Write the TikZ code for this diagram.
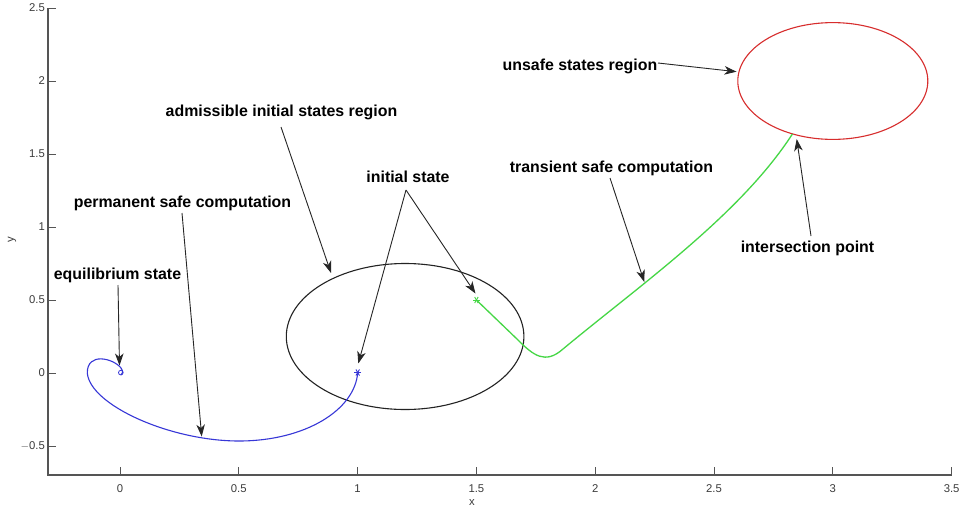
\documentclass[tikz,border=0pt]{standalone}
\usepackage{fontspec}
\setmainfont{Liberation Sans}
\usetikzlibrary{arrows.meta}
\definecolor{axisgray}{RGB}{85,85,85}
\definecolor{tickgray}{RGB}{60,60,60}
\definecolor{trajblue}{RGB}{55,55,215}
\definecolor{trajgreen}{RGB}{70,215,70}
\definecolor{unsafered}{RGB}{215,45,45}
\definecolor{regionblack}{RGB}{35,35,35}
\tikzset{
  axisline/.style={draw=axisgray, line width=1.2pt},
  tickline/.style={draw=axisgray, line width=1pt},
  ticklab/.style={text=tickgray, inner sep=0pt, font=\fontsize{11.3}{13}\selectfont},
  lab/.style={inner sep=0pt, anchor=base, font=\bfseries\fontsize{15.9}{18}\selectfont},
  arr/.style={draw=black!85, line width=0.9pt, -{Stealth[length=12pt,width=8.5pt,inset=3.5pt]}},
  bluetraj/.style={draw=trajblue, line width=1.1pt},
  greentraj/.style={draw=trajgreen, line width=1.3pt},
  starmark/.style={line width=0.9pt}
}
\begin{document}
\begin{tikzpicture}[x=1pt,y=-1pt]
\useasboundingbox[fill=white] (0,0) rectangle (960,514);

% axes
\coordinate (origin) at (48,475);
\coordinate (ytop) at (48,8);
\coordinate (xend) at (951.6,475);
\draw[axisline] (ytop) -- (origin) -- (xend);

% x ticks
\foreach \v/\l in {0/0,0.5/0.5,1/1,1.5/1.5,2/2,2.5/2.5,3/3,3.5/3.5}{
  \pgfmathsetmacro{\px}{120+237.6*\v}
  \draw[tickline] (\px,475) -- (\px,467);
  \node[ticklab, anchor=base] (xt\l) at (\px,492) {\l};
}
\node[ticklab, anchor=base] (xlabel) at (472,505) {x};

% y ticks
\foreach \v/\l in {-0.5/{$-$0.5},0/0,0.5/0.5,1/1,1.5/1.5,2/2,2.5/2.5}{
  \pgfmathsetmacro{\py}{373-146*\v}
  \draw[tickline] (48,\py) -- (56,\py);
  \node[ticklab, anchor=east] at (45,\py) {\l};
}
\node[ticklab, rotate=90] (ylabel) at (12,240) {y};

% regions
\draw[regionblack, line width=1.1pt] (405.1,336.5) ellipse [x radius=118.8, y radius=73];
\draw[unsafered, line width=1.1pt] (832.8,81) ellipse [x radius=95, y radius=58.4];

% blue trajectory (permanent safe computation)
\draw[bluetraj] (357.7,372.5) .. controls (355,410) and (305,441) .. (239,441)
  .. controls (170,441) and (90,405) .. (87.3,373)
  .. controls (87,352) and (113,358) .. (121,368)
  .. controls (123,371) and (123.5,374) .. (121,375);
\draw[trajblue, line width=0.8pt] (120.8,372.6) circle (2.3);

% green trajectory (transient safe computation)
\draw[greentraj] (476.4,300) -- (518,340)
  .. controls (533,355) and (545,365) .. (563,349)
  .. controls (640,285) and (740,215) .. (792.4,134);

% initial state markers
\coordinate (blueinit) at (357.7,372.5);
\coordinate (greeninit) at (476.4,300);
\foreach \a in {0,60,120}{
  \draw[trajblue, starmark] (blueinit) ++(\a:3.5) -- ++(\a+180:7);
  \draw[trajgreen, starmark] (greeninit) ++(\a:3.5) -- ++(\a+180:7);
}

% labels
\node[lab] (unsafe) at (580,70.5) {unsafe states region};
\node[lab] (admiss) at (281.5,116) {admissible initial states region};
\node[lab] (initial) at (408,182) {initial state};
\node[lab] (transient) at (611.5,172) {transient safe computation};
\node[lab] (permanent) at (182.5,207) {permanent safe computation};
\node[lab] (equil) at (117.5,279) {equilibrium state};
\node[lab] (inter) at (807.5,252) {intersection point};

% arrow anchor points
\coordinate (unsafeS) at (658,63);
\coordinate (unsafeT) at (736.5,71.7);
\coordinate (admissS) at (281,127);
\coordinate (admissT) at (331,273);
\coordinate (initS) at (406,190);
\coordinate (initT1) at (358.3,363.5);
\coordinate (initT2) at (475.5,293.5);
\coordinate (transS) at (610,178);
\coordinate (transT) at (644.3,282);
\coordinate (permS) at (182,213);
\coordinate (permT) at (201.7,436.5);
\coordinate (equilS) at (118,285);
\coordinate (equilT) at (119.5,365.5);
\coordinate (interS) at (811,236);
\coordinate (interT) at (796.7,139);

\draw[arr] (unsafeS) -- (unsafeT);
\draw[arr] (admissS) -- (admissT);
\draw[arr] (initS) -- (initT1);
\draw[arr] (initS) -- (initT2);
\draw[arr] (transS) -- (transT);
\draw[arr] (permS) -- (permT);
\draw[arr] (equilS) -- (equilT);
\draw[arr] (interS) -- (interT);
\end{tikzpicture}
\end{document}
